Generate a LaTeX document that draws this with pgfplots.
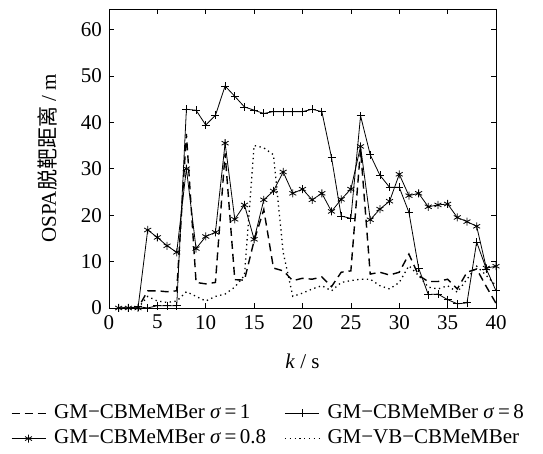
\documentclass[border=0pt]{standalone}
\usepackage{pgfplots}
\pgfplotsset{compat=1.18}
\usepackage{fontspec}
\setmainfont{Liberation Serif}
\newfontfamily\cjk{Noto Sans CJK SC}

\begin{document}
\fontsize{21}{25}\selectfont
\begin{tikzpicture}
\begin{axis}[
    scale only axis,
    width=387pt, height=299pt,
    xmin=0, xmax=40, ymin=0, ymax=64.4,
    xtick={0,5,...,40}, ytick={0,10,...,60},
    tick align=inside,
    major tick length=5pt,
    tick style={black, line width=0.6pt},
    axis line style={line width=0.8pt},
    /pgf/number format/assume math mode=true,
    ticklabel style={font=\fontsize{21}{25}\selectfont},
    xlabel={\textit{k} / s},
    ylabel={OSPA{\cjk 脱靶距离} / m},
    label style={font=\fontsize{21}{25}\selectfont},
    xlabel style={yshift=-10pt},
    ylabel style={yshift=9pt},
    legend columns=2,
    legend cell align=left,
    legend style={draw=none, fill=none, at={(-0.262,-0.31)}, anchor=north west,
        font=\fontsize{21}{25}\selectfont,
        /tikz/every odd column/.append style={column sep=6pt},
        /tikz/every even column/.append style={column sep=16pt},
        row sep=4pt},
    legend image code/.code={\draw[mark repeat=2,mark phase=2] plot coordinates {(0pt,0pt)(17pt,0pt)(34pt,0pt)};},
]

% sigma = 1
\addplot[black, line width=1.4pt, dash pattern=on 8pt off 5pt, mark=none] coordinates {
(1,0)(2,0)(3,0)(4,3.7)(5,3.7)(6,3.5)(7,3.7)(8,37.5)(9,5.5)(10,5.2)
(11,5.5)(12,33.3)(13,6.1)(14,6)(15,14.5)(16,21.2)(17,8.6)(18,8)(19,5.9)(20,6.4)
(21,6.2)(22,6.7)(23,4.6)(24,7.7)(25,8)(26,34.2)(27,7.3)(28,7.7)(29,7.1)(30,7.7)
(31,11.6)(32,7)(33,5.7)(34,5.7)(35,6.2)(36,4.1)(37,7.7)(38,8.4)(39,4.6)(40,1)
};
\addlegendentry{GM−CBMeMBer \textit{σ}\,=\,1}

% sigma = 8
\addplot[black, line width=0.8pt, mark=+, mark size=4pt] coordinates {
(1,0)(2,0)(3,0.3)(4,0)(5,0.5)(6,0.5)(7,0.5)(8,42.8)(9,42.6)(10,39.4)
(11,41.5)(12,47.8)(13,45.6)(14,43.3)(15,42.6)(16,41.9)(17,42.3)(18,42.3)(19,42.3)(20,42.3)
(21,42.8)(22,42.3)(23,32.4)(24,19.8)(25,19.3)(26,41.4)(27,33)(28,28.6)(29,26)(30,26)
(31,20.6)(32,8.6)(33,2.9)(34,3)(35,1.8)(36,0.9)(37,1.1)(38,14.2)(39,8.4)(40,3.7)
};
\addlegendentry{GM−CBMeMBer \textit{σ}\,=\,8}

% sigma = 0.8
\addplot[black, line width=0.8pt, mark=asterisk, mark size=4pt] coordinates {
(1,0)(2,0)(3,0)(4,16.8)(5,15.2)(6,13.4)(7,12)(8,30)(9,12.8)(10,15.4)
(11,16.3)(12,35.5)(13,19.1)(14,22.2)(15,14.8)(16,23.3)(17,25.2)(18,29.3)(19,24.7)(20,25.6)
(21,23.3)(22,24.7)(23,20.8)(24,23.4)(25,25.6)(26,34.8)(27,19)(28,21.3)(29,23)(30,28.8)
(31,24.2)(32,24.7)(33,21.8)(34,22.2)(35,22.4)(36,19.5)(37,18.6)(38,17.6)(39,8.6)(40,9)
};
\addlegendentry{GM−CBMeMBer \textit{σ}\,=\,0.8}

% VB
\addplot[black, line width=1.3pt, dash pattern=on 1.3pt off 3.5pt, mark=none] coordinates {
(1,0)(2,0)(3,0)(4,2.5)(5,1.5)(6,1.2)(7,1.5)(8,3.5)(9,2.5)(10,1.5)
(11,2.5)(12,3)(13,4.5)(14,7)(15,35)(16,34.5)(17,33)(18,12)(19,2.5)(20,3.2)
(21,4.1)(22,4.8)(23,3.7)(24,5.5)(25,5.9)(26,6.2)(27,6.2)(28,4.8)(29,4.1)(30,5.5)
(31,9.1)(32,7)(33,4.5)(34,4.1)(35,4.8)(36,3.4)(37,6.2)(38,9)(39,7)(40,4.8)
};
\addlegendentry{GM−VB−CBMeMBer}

\end{axis}
\path ([xshift=-109pt,yshift=-146pt]current axis.south west) rectangle ([xshift=47pt,yshift=9pt]current axis.north east);
\end{tikzpicture}
\end{document}
